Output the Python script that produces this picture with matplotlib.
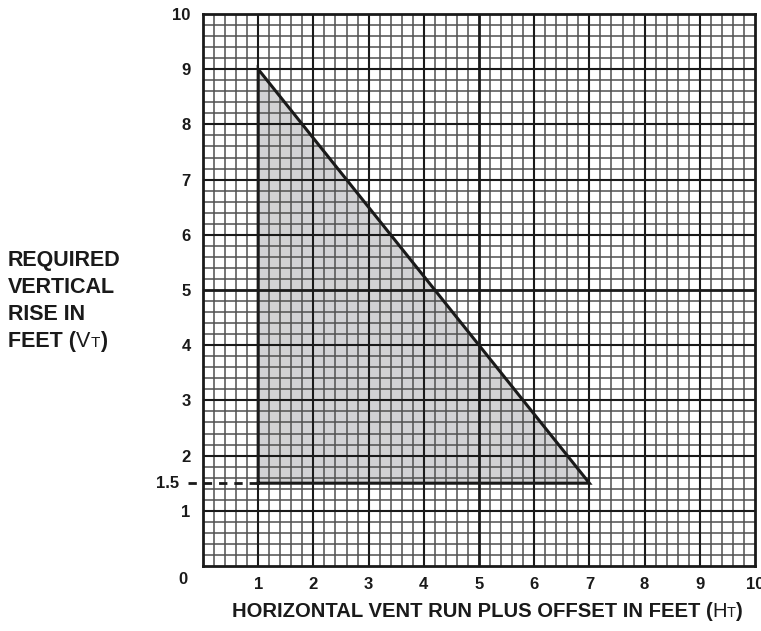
import matplotlib
matplotlib.use('Agg')
import matplotlib.pyplot as plt
import numpy as np

# triangle of allowed region (horizontal run, vertical rise)
tri_x = [1, 1, 7]
tri_y = [1.5, 9, 1.5]
min_rise = 1.5

x_ticks = [1, 2, 3, 4, 5, 6, 7, 8, 9, 10]
y_ticks = [1, 2, 3, 4, 5, 6, 7, 8, 9, 10]

plt.rcParams['font.family'] = ['Liberation Sans', 'DejaVu Sans']

W, H = 761, 631
fig = plt.figure(figsize=(W / 100, H / 100), dpi=100)
ax = fig.add_axes([203 / W, 65 / H, 552 / W, 552 / H])
ax.set_xlim(0, 10)
ax.set_ylim(0, 10)

# minor grid every 0.2
for v in np.arange(0, 10.01, 0.2):
    if abs(v - round(v)) < 1e-6:
        continue
    ax.axvline(v, color='#505050', lw=1.1, zorder=2)
    ax.axhline(v, color='#505050', lw=1.1, zorder=2)
for v in range(1, 10):
    lw = 2.0 if v == 5 else 1.5
    ax.axvline(v, color='#1a1a1a', lw=lw, zorder=3)
    ax.axhline(v, color='#1a1a1a', lw=lw, zorder=3)

ax.fill(tri_x, tri_y, facecolor='#d2d2d4', edgecolor='none', zorder=1)
ax.plot(tri_x + [tri_x[0]], tri_y + [tri_y[0]], color='#1a1a1a', lw=2.2,
        solid_joinstyle='miter', zorder=4)

# dashed lead line to the 1.5 label
ax.plot([-0.27, 1], [min_rise, min_rise], color='#1a1a1a', lw=2.0,
        linestyle=(0, (3, 2.5)), clip_on=False, zorder=4)

for s in ax.spines.values():
    s.set_linewidth(2.0)
    s.set_color('#1a1a1a')
    s.set_zorder(5)

ax.set_xticks(x_ticks)
ax.set_yticks(y_ticks)
ax.set_xticklabels([str(t) for t in x_ticks])
ax.set_yticklabels([str(t) for t in y_ticks])
ax.tick_params(length=0, labelsize=12, colors='#1a1a1a')
ax.tick_params(axis='x', pad=8)
ax.tick_params(axis='y', pad=9)
for lab in ax.get_xticklabels() + ax.get_yticklabels():
    lab.set_fontweight('bold')

fig.text(183 / W, 1 - 580 / H, '0', fontsize=12, fontweight='bold',
         color='#1a1a1a', ha='center', va='center')
ax.text(-0.43, min_rise, '1.5', fontsize=12, fontweight='bold',
        color='#1a1a1a', ha='right', va='center')


def draw_pieces(x_px, base_px, pieces, ha='left'):
    """draw a row of text pieces with different weights/sizes"""
    renderer = fig.canvas.get_renderer()
    texts = []
    x = x_px
    for s, weight, size in pieces:
        t = fig.text(x / W, 1 - base_px / H, s, fontsize=size, fontweight=weight,
                     color='#1a1a1a', ha='left', va='baseline')
        bb = t.get_window_extent(renderer)
        x += bb.width
        texts.append(t)
    if ha == 'center':
        shift = (x - x_px) / 2
        for t in texts:
            px, py = t.get_position()
            t.set_position((px - shift / W, py))


fs = 15.5
for line, base in [('REQUIRED', 266), ('VERTICAL', 293), ('RISE IN', 320)]:
    fig.text(8 / W, 1 - base / H, line, fontsize=fs, fontweight='bold',
             color='#1a1a1a', ha='left', va='baseline')
draw_pieces(8, 347, [('FEET (', 'bold', fs), ('V', 'normal', fs),
                     ('T', 'normal', 11), (')', 'bold', fs)])

fsx = 14.6
draw_pieces(487, 617, [('HORIZONTAL VENT RUN PLUS OFFSET IN FEET (', 'bold', fsx),
                       ('H', 'normal', fsx), ('T', 'normal', 10.5), (')', 'bold', fsx)],
            ha='center')

fig.savefig('out.png', dpi=100)
